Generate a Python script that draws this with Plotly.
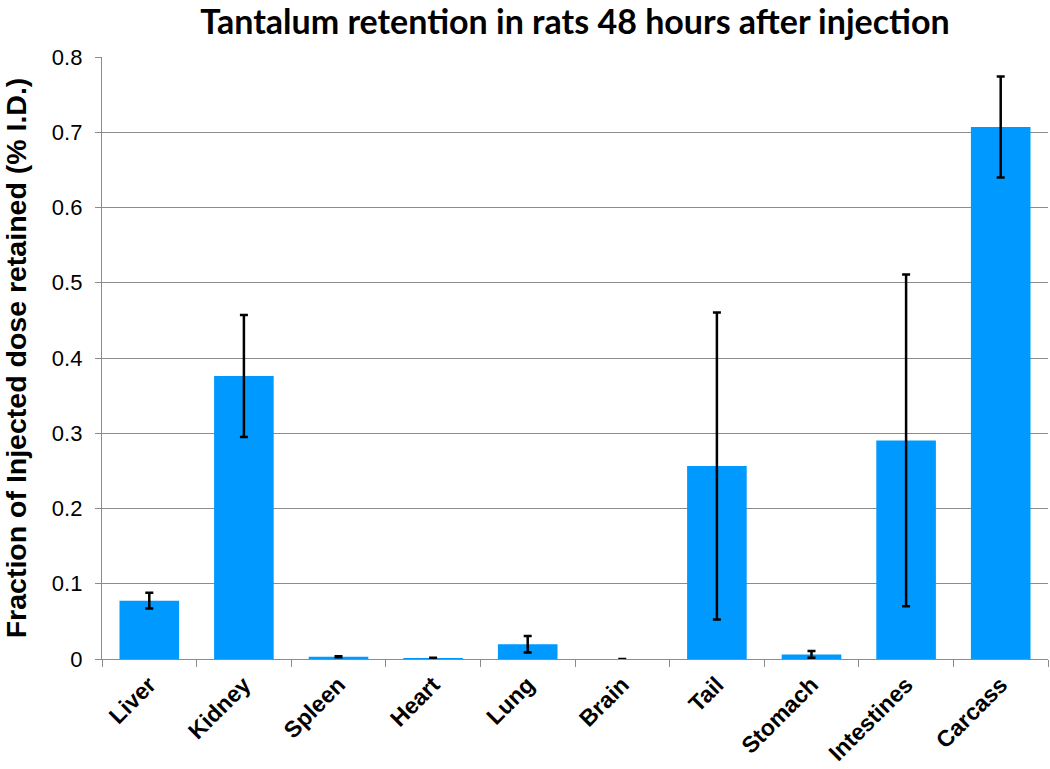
import plotly.graph_objects as go

organs = ["Liver", "Kidney", "Spleen", "Heart", "Lung", "Brain", "Tail", "Stomach", "Intestines", "Carcass"]
retention = [0.0775, 0.376, 0.003, 0.0005, 0.0195, 0.0, 0.2565, 0.006, 0.2905, 0.707]
error = [0.0105, 0.081, 0.0007, 0.0012, 0.011, None, 0.204, 0.0045, 0.2205, 0.067]
y_tick_values = [0, 0.1, 0.2, 0.3, 0.4, 0.5, 0.6, 0.7, 0.8]
y_tick_labels = ["0", "0.1", "0.2", "0.3", "0.4", "0.5", "0.6", "0.7", "0.8"]

fig = go.Figure()
fig.add_trace(go.Bar(
    x=organs, y=retention,
    marker=dict(color="#0099FF", line=dict(width=0)),
    error_y=dict(type="data", array=error, visible=True, color="black", thickness=2.5, width=4),
))

fig.update_layout(
    width=1050, height=769,
    margin=dict(l=102, r=2, t=57, b=110, autoexpand=False),
    paper_bgcolor="white", plot_bgcolor="white",
    bargap=0.37,
    showlegend=False,
    title=dict(text="<b>Tantalum retention in rats 48 hours after injection</b>",
               x=0.5, xref="paper", xanchor="center", y=0.971, yanchor="middle",
               font=dict(family="Lato, Open Sans, sans-serif", size=34, color="black")),
    font=dict(family="Liberation Sans, Arial, sans-serif", color="black"),
)
fig.update_yaxes(
    range=[0, 0.8], tickvals=y_tick_values, ticktext=y_tick_labels,
    showgrid=True, gridcolor="#8c8c8c", gridwidth=1.3,
    showline=True, linecolor="#8c8c8c", linewidth=1.3,
    ticks="outside", ticklen=6, tickcolor="#8c8c8c",
    ticklabelstandoff=8,
    tickfont=dict(size=22, family="Liberation Sans, Arial, sans-serif"),
    zeroline=False,
    title=dict(text="<b>Fraction of Injected dose retained (% I.D.)</b>",
               font=dict(size=28.5, family="Liberation Sans, Arial, sans-serif"), standoff=17),
)
fig.update_xaxes(
    showline=True, linecolor="#8c8c8c", linewidth=1.3,
    ticks="outside", ticklen=7, tickcolor="#8c8c8c", tickson="boundaries",
    tickangle=-45,
    tickfont=dict(size=23, family="Liberation Sans, Arial, sans-serif"),
    ticklabelstandoff=2,
    tickprefix="<b>", ticksuffix="</b>",
)

fig.write_html("out.html", config={"displayModeBar": False},
               post_script="document.body.style.margin='0';")
